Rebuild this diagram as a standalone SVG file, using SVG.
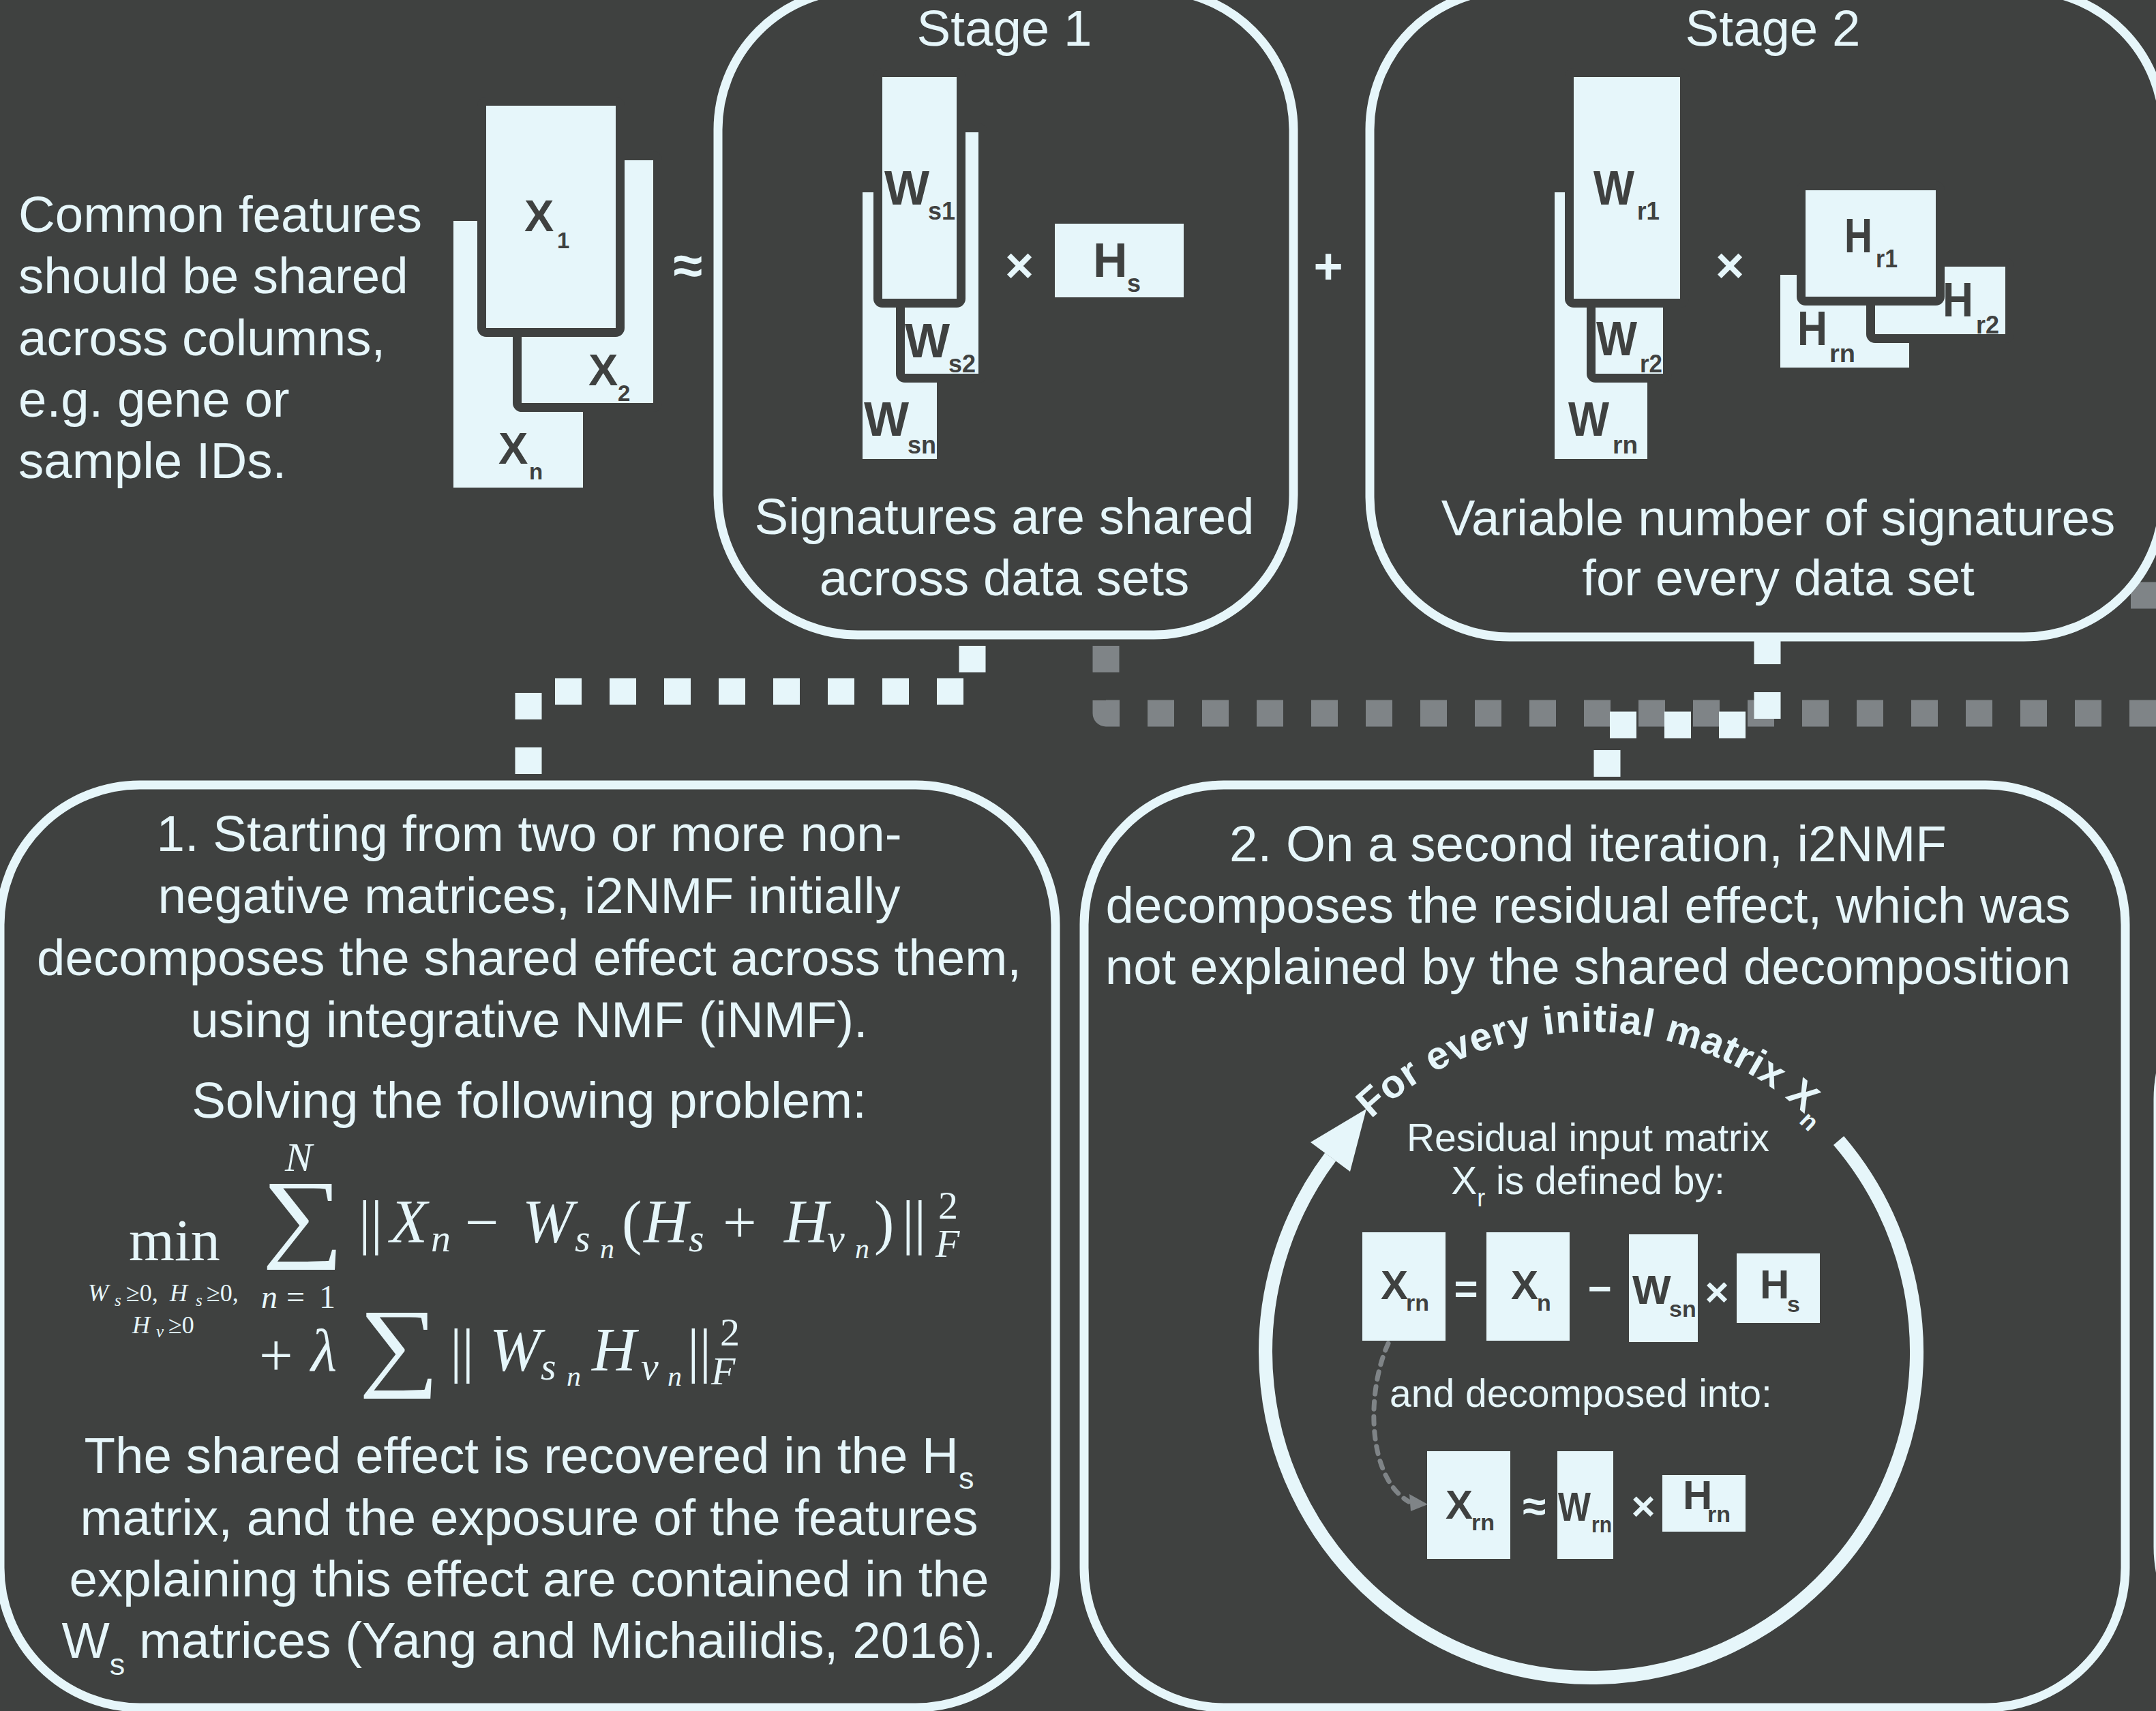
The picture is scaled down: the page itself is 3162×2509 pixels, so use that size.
<svg xmlns="http://www.w3.org/2000/svg" width="3162" height="2509" viewBox="0 0 3162 2509">
<defs>
<style>
.bg{fill:#3f4140}
.frame{fill:none;stroke:#e6f6fa;stroke-width:13}
.m{fill:#e6f6fa}
.mf{fill:#e6f6fa;stroke:#3f4140;stroke-width:26;stroke-linejoin:round;paint-order:stroke}
.t{font-family:"Liberation Sans",Arial,Helvetica,sans-serif;font-size:74.5px;fill:#e6f6fa}
.s{font-family:"Liberation Sans",Arial,Helvetica,sans-serif;font-size:57px;fill:#e6f6fa}
.c{text-anchor:middle}
.lb{font-family:"Liberation Sans",Arial,Helvetica,sans-serif;font-weight:bold;fill:#3f4140}
.op{font-family:"Liberation Sans",Arial,Helvetica,sans-serif;font-weight:bold;fill:#e6f6fa;text-anchor:middle}
.f{font-family:"Liberation Serif","Times New Roman",serif;fill:#e6f6fa}
.i{font-style:italic}
.wd{fill:none;stroke:#e6f6fa;stroke-width:39;stroke-dasharray:39 41}
.gd{fill:none;stroke:#7f8487;stroke-width:39;stroke-dasharray:39 41;stroke-linejoin:round}
</style>
</defs>
<rect class="bg" x="0" y="0" width="3162" height="2509"/>

<g id="connectors">
<path class="gd" d="M1622,947 V1046 H3200"/>
<path d="M3125,873 H3170" stroke="#7f8487" stroke-width="39" fill="none"/>
<path class="wd" d="M1426,947 V1014 H775 V1150"/>
<path class="wd" d="M2592,935 V1063 H2357 V1152"/>
</g>

<g id="input">
<text class="t" x="27" y="340">Common features</text>
<text class="t" x="27" y="430">should be shared</text>
<text class="t" x="27" y="521">across columns,</text>
<text class="t" x="27" y="611">e.g. gene or</text>
<text class="t" x="27" y="701">sample IDs.</text>
<rect class="m" x="665" y="324" width="190" height="391"/>
<rect class="mf" x="765" y="235" width="193" height="356"/>
<rect class="mf" x="713" y="155" width="190" height="326"/>
<text class="lb" font-size="65" x="769" y="339">X<tspan x="817" y="364" font-size="33">1</tspan></text>
<text class="lb" font-size="65" x="863" y="565">X<tspan x="906" y="588" font-size="33">2</tspan></text>
<text class="lb" font-size="65" x="731" y="680">X<tspan x="776" y="703" font-size="33">n</tspan></text>
<text class="op" font-size="78" x="1009" y="416">≈</text>
</g>

<g id="stage1">
<rect class="frame" x="1053" y="-15" width="844" height="946" rx="205"/>
<text class="t c" x="1473" y="67">Stage 1</text>
<rect class="m" x="1265" y="282" width="109" height="391"/>
<rect class="mf" x="1327" y="194" width="108" height="354"/>
<rect class="mf" x="1294" y="113" width="109" height="325"/>
<text class="lb" font-size="70" x="1297" y="300">W<tspan x="1361" y="322" font-size="36">s1</tspan></text>
<text class="lb" font-size="70" x="1327" y="524">W<tspan x="1391" y="546" font-size="36">s2</tspan></text>
<text class="lb" font-size="70" x="1267" y="639">W<tspan x="1331" y="665" font-size="36">sn</tspan></text>
<text class="op" font-size="72" x="1495" y="414">×</text>
<rect class="m" x="1547" y="328" width="189" height="108"/>
<text class="lb" font-size="70" x="1603" y="406">H<tspan x="1653" y="428" font-size="36">s</tspan></text>
<text class="t c" x="1473" y="783">Signatures are shared</text>
<text class="t c" x="1473" y="873">across data sets</text>
</g>

<text class="op" font-size="74" x="1948" y="416">+</text>

<g id="stage2">
<rect class="frame" x="2009" y="-15" width="1164" height="949" rx="205"/>
<text class="t c" x="2600" y="67">Stage 2</text>
<rect class="m" x="2280" y="282" width="136" height="391"/>
<rect class="mf" x="2340" y="200" width="99" height="348"/>
<rect class="mf" x="2308" y="113" width="156" height="325"/>
<text class="lb" font-size="70" x="2337" y="300" textLength="60" lengthAdjust="spacingAndGlyphs">W</text>
<text class="lb" font-size="36" x="2401" y="322" textLength="33" lengthAdjust="spacingAndGlyphs">r1</text>
<text class="lb" font-size="70" x="2341" y="521" textLength="60" lengthAdjust="spacingAndGlyphs">W</text>
<text class="lb" font-size="36" x="2405" y="546" textLength="33" lengthAdjust="spacingAndGlyphs">r2</text>
<text class="lb" font-size="70" x="2300" y="639" textLength="60" lengthAdjust="spacingAndGlyphs">W</text>
<text class="lb" font-size="36" x="2365" y="665" textLength="37" lengthAdjust="spacingAndGlyphs">rn</text>
<text class="op" font-size="72" x="2537" y="414">×</text>
<rect class="m" x="2611" y="403" width="189" height="136"/>
<rect class="mf" x="2750" y="391" width="191" height="99"/>
<rect class="mf" x="2648" y="279" width="191" height="156"/>
<text class="lb" font-size="70" x="2705" y="370" textLength="41" lengthAdjust="spacingAndGlyphs">H</text>
<text class="lb" font-size="36" x="2751" y="392" textLength="32" lengthAdjust="spacingAndGlyphs">r1</text>
<text class="lb" font-size="70" x="2849" y="464" textLength="45" lengthAdjust="spacingAndGlyphs">H</text>
<text class="lb" font-size="36" x="2898" y="489" textLength="34" lengthAdjust="spacingAndGlyphs">r2</text>
<text class="lb" font-size="70" x="2636" y="506" textLength="44" lengthAdjust="spacingAndGlyphs">H</text>
<text class="lb" font-size="36" x="2683" y="531" textLength="38" lengthAdjust="spacingAndGlyphs">rn</text>
<text class="t c" x="2608" y="785">Variable number of signatures</text>
<text class="t c" x="2608" y="873">for every data set</text>
</g>

<g id="step1">
<rect class="frame" x="0" y="1151" width="1548" height="1353" rx="205"/>
<text class="t c" x="776" y="1248">1. Starting from two or more non-</text>
<text class="t c" x="776" y="1339">negative matrices, i2NMF initially</text>
<text class="t c" x="776" y="1430">decomposes the shared effect across them,</text>
<text class="t c" x="776" y="1521">using integrative NMF (iNMF).</text>
<text class="t c" x="776" y="1639">Solving the following problem:</text>
<g id="formula" class="f">
<text font-size="60" class="i" x="418" y="1717">N</text>
<text font-size="145" x="384" y="1831" textLength="120" lengthAdjust="spacingAndGlyphs">∑</text>
<text font-size="86" x="189" y="1848">min</text>
<text font-size="88" x="526" y="1822">||</text>
<text font-size="90" class="i" x="572" y="1822">X</text>
<text font-size="58" class="i" x="632" y="1835">n</text>
<text font-size="88" x="682" y="1822">−</text>
<text font-size="90" class="i" x="766" y="1822">W</text>
<text font-size="58" class="i" x="843" y="1835">s</text>
<text font-size="42" class="i" x="880" y="1845">n</text>
<text font-size="88" x="912" y="1822">(</text>
<text font-size="90" class="i" x="944" y="1822">H</text>
<text font-size="58" class="i" x="1010" y="1835">s</text>
<text font-size="88" x="1060" y="1822">+</text>
<text font-size="90" class="i" x="1150" y="1822">H</text>
<text font-size="58" class="i" x="1213" y="1835">v</text>
<text font-size="42" class="i" x="1254" y="1845">n</text>
<text font-size="88" x="1282" y="1822">)</text>
<text font-size="88" x="1323" y="1822">||</text>
<text font-size="58" x="1376" y="1787">2</text>
<text font-size="58" class="i" x="1372" y="1843">F</text>
<text font-size="36" y="1908"><tspan x="129" class="i">W</tspan><tspan x="168" y="1915" font-size="25" class="i">s</tspan><tspan x="185" y="1908">≥0,</tspan><tspan x="249" class="i">H</tspan><tspan x="287" y="1915" font-size="25" class="i">s</tspan><tspan x="303" y="1908">≥0,</tspan></text>
<text font-size="36" y="1955"><tspan x="194" class="i">H</tspan><tspan x="229" y="1961" font-size="25" class="i">v</tspan><tspan x="247" y="1955">≥0</tspan></text>
<text font-size="48" y="1918"><tspan x="383" class="i">n</tspan><tspan x="420">=</tspan><tspan x="468">1</tspan></text>
<text font-size="88" x="380" y="2017">+</text>
<text font-size="88" class="i" x="456" y="2010">λ</text>
<text font-size="145" x="526" y="2020" textLength="118" lengthAdjust="spacingAndGlyphs">∑</text>
<text font-size="88" x="660" y="2010">||</text>
<text font-size="90" class="i" x="718" y="2010">W</text>
<text font-size="58" class="i" x="793" y="2023">s</text>
<text font-size="42" class="i" x="831" y="2032">n</text>
<text font-size="90" class="i" x="868" y="2010">H</text>
<text font-size="58" class="i" x="940" y="2023">v</text>
<text font-size="42" class="i" x="979" y="2032">n</text>
<text font-size="88" x="1008" y="2010">||</text>
<text font-size="58" x="1056" y="1973">2</text>
<text font-size="58" class="i" x="1043" y="2030">F</text>
</g>
<text class="t c" x="776" y="2160">The shared effect is recovered in the H<tspan dy="23" font-size="45">s</tspan></text>
<text class="t c" x="776" y="2251">matrix, and the exposure of the features</text>
<text class="t c" x="776" y="2341">explaining this effect are contained in the</text>
<text class="t c" x="776" y="2431">W<tspan dy="25" font-size="45">s</tspan><tspan dy="-25"> matrices (Yang and Michailidis, 2016).</tspan></text>
</g>

<g id="step2">
<rect class="frame" x="1590" y="1151" width="1527" height="1353" rx="205"/>
<text class="t c" x="2329" y="1263">2. On a second iteration, i2NMF</text>
<text class="t c" x="2329" y="1353">decomposes the residual effect, which was</text>
<text class="t c" x="2329" y="1443">not explained by the shared decomposition</text>
<path d="M2696.6,1672.4 A477.5,477.5 0 1 1 1951.2,1696.5" fill="none" stroke="#e6f6fa" stroke-width="20"/>
<polygon class="m" points="2004,1626 1922,1675 1980,1718"/>
<path id="arcp" d="M2011,1641 A468,468 0 0 1 2794,1901" fill="none"/>
<text font-family="Liberation Sans,Arial,sans-serif" font-weight="bold" font-size="58" fill="#e6f6fa" letter-spacing="1"><textPath href="#arcp">For every initial matrix X<tspan font-size="36" dy="15">n</tspan></textPath></text>
<text class="s c" x="2329" y="1688">Residual input matrix</text>
<text class="s c" x="2329" y="1751">X<tspan dy="18" font-size="36">r</tspan><tspan dy="-18"> is defined by:</tspan></text>
<rect class="m" x="1998" y="1807" width="122" height="159"/>
<text class="lb" font-size="60" x="2025" y="1905">X<tspan x="2062" y="1922" font-size="34">rn</tspan></text>
<text class="op" font-size="60" x="2150" y="1910">=</text>
<rect class="m" x="2180" y="1807" width="122" height="159"/>
<text class="lb" font-size="60" x="2216" y="1905">X<tspan x="2254" y="1922" font-size="34">n</tspan></text>
<text class="op" font-size="60" x="2346" y="1910">−</text>
<rect class="m" x="2389" y="1810" width="101" height="158"/>
<text class="lb" font-size="60" x="2394" y="1912">W<tspan x="2448" y="1931" font-size="34">sn</tspan></text>
<text class="op" font-size="60" x="2518" y="1915">×</text>
<rect class="m" x="2547" y="1838" width="122" height="102"/>
<text class="lb" font-size="60" x="2581" y="1904">H<tspan x="2621" y="1924" font-size="34">s</tspan></text>
<text class="s" x="2038" y="2063">and decomposed into:</text>
<path d="M2036,1970 C2004,2040 2004,2165 2066,2202" fill="none" stroke="#7f8487" stroke-width="7" stroke-dasharray="11 11" stroke-linecap="round"/>
<polygon points="2094,2206 2067,2191 2069,2216" fill="#7f8487"/>
<rect class="m" x="2093" y="2128" width="122" height="158"/>
<text class="lb" font-size="60" x="2120" y="2227">X<tspan x="2158" y="2244" font-size="34">rn</tspan></text>
<text class="op" font-size="62" x="2250" y="2230">≈</text>
<rect class="m" x="2284" y="2128" width="82" height="158"/>
<text class="lb" font-size="60" x="2285" y="2230" textLength="48" lengthAdjust="spacingAndGlyphs">W</text>
<text class="lb" font-size="34" x="2334" y="2247" textLength="30" lengthAdjust="spacingAndGlyphs">rn</text>
<text class="op" font-size="60" x="2410" y="2229">×</text>
<rect class="m" x="2438" y="2163" width="122" height="83"/>
<text class="lb" font-size="60" x="2468" y="2213">H<tspan x="2504" y="2232" font-size="34">rn</tspan></text>
</g>

<g id="step3">
<rect class="frame" x="3165" y="1407" width="800" height="1066" rx="205"/>
</g>
</svg>
